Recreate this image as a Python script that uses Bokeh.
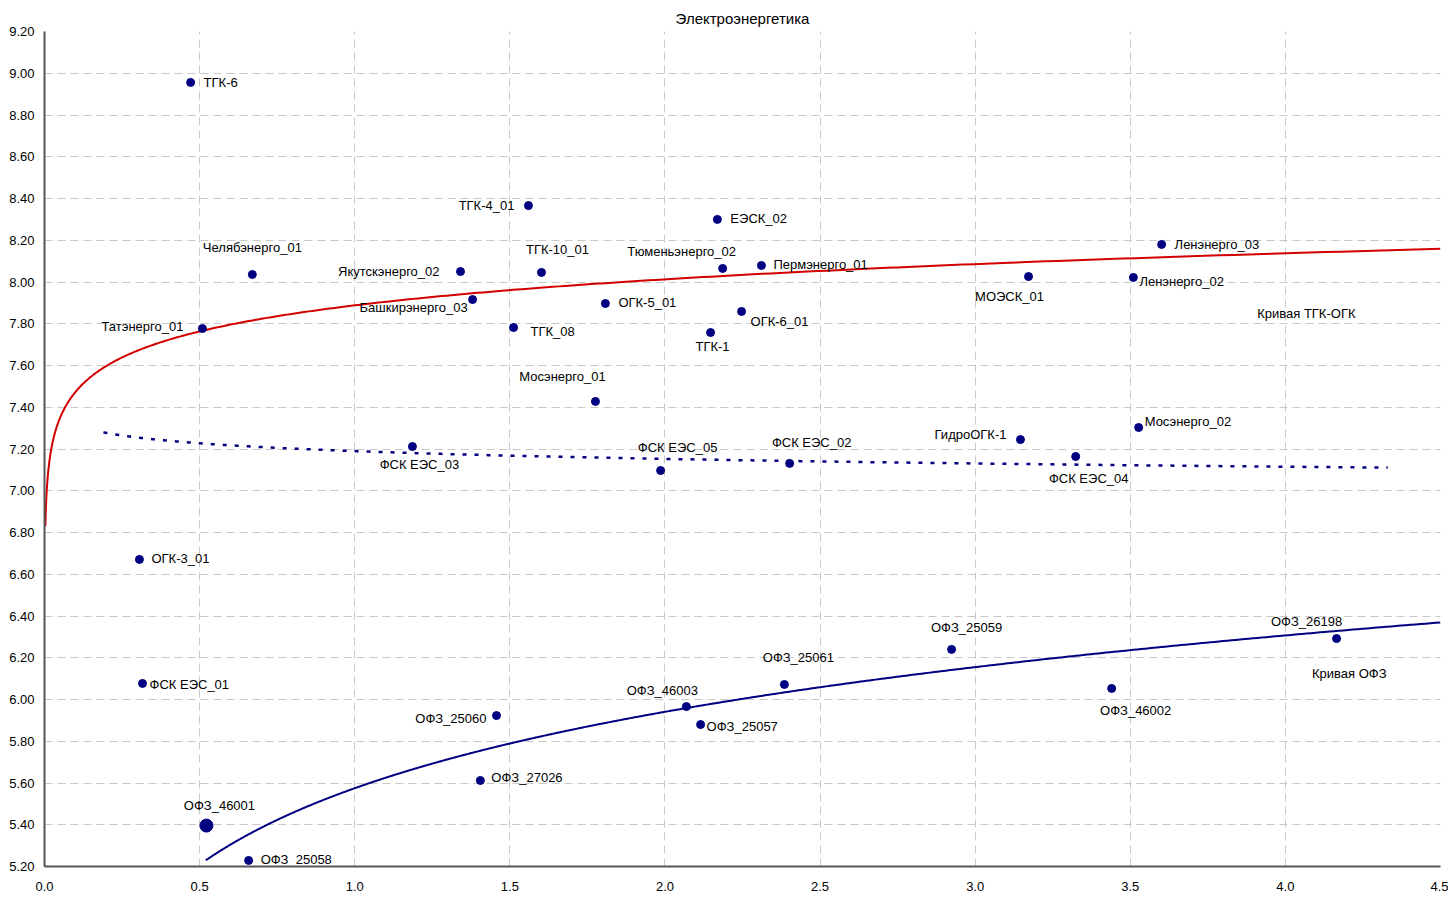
import numpy as np
from bokeh.plotting import figure
from bokeh.models import ColumnDataSource, Range1d, FixedTicker, NumeralTickFormatter
from bokeh.core.properties import value
from bokeh.embed import file_html
from bokeh.resources import INLINE

# ---------------- data ----------------
title = "Электроэнергетика"

corp_names = ["ТГК-6", "ТГК-4_01", "ЕЭСК_02", "Челябэнерго_01", "Якутскэнерго_02", "ТГК-10_01",
              "Тюменьэнерго_02", "Пермэнерго_01", "Ленэнерго_03", "МОЭСК_01", "Ленэнерго_02",
              "Башкирэнерго_03", "ОГК-5_01", "ОГК-6_01", "Татэнерго_01", "ТГК_08", "ТГК-1",
              "Мосэнерго_01", "ФСК ЕЭС_03", "ФСК ЕЭС_05", "ФСК ЕЭС_02", "ГидроОГК-1",
              "ФСК ЕЭС_04", "Мосэнерго_02", "ОГК-3_01", "ФСК ЕЭС_01"]
corp_x = [0.471, 1.560, 2.169, 0.670, 1.341, 1.602, 2.186, 2.311, 3.601, 3.172, 3.510,
          1.380, 1.808, 2.247, 0.509, 1.512, 2.147, 1.776, 1.186, 1.986, 2.402, 3.146,
          3.324, 3.527, 0.306, 0.316]
corp_y = [8.956, 8.366, 8.300, 8.036, 8.050, 8.046, 8.065, 8.079, 8.180, 8.026, 8.022,
          7.916, 7.897, 7.859, 7.777, 7.782, 7.758, 7.428, 7.212, 7.097, 7.131, 7.245,
          7.164, 7.303, 6.671, 6.077]

ofz_names = ["ОФЗ_25059", "ОФЗ_26198", "ОФЗ_25061", "ОФЗ_46002", "ОФЗ_46003", "ОФЗ_25060",
             "ОФЗ_25057", "ОФЗ_27026", "ОФЗ_46001", "ОФЗ_25058"]
ofz_x = [2.924, 4.165, 2.385, 3.440, 2.069, 1.457, 2.115, 1.405, 0.522, 0.658]
ofz_y = [6.240, 6.292, 6.072, 6.053, 5.966, 5.923, 5.880, 5.612, 5.396, 5.229]

# logarithmic trend lines y = a + b*ln(x)
trend_tgk = dict(name="Кривая ТГК-ОГК", a=7.888, b=0.180, x0=0.0028, x1=4.5)
trend_ofz = dict(name="Кривая ОФЗ", a=5.575, b=0.528, x0=0.52, x1=4.5)
trend_fsk = dict(a=7.190, b=-0.054, x0=0.19, x1=4.33)

x_ticks = [0.0, 0.5, 1.0, 1.5, 2.0, 2.5, 3.0, 3.5, 4.0, 4.5]
y_ticks = [5.2, 5.4, 5.6, 5.8, 6.0, 6.2, 6.4, 6.6, 6.8, 7.0, 7.2, 7.4, 7.6, 7.8, 8.0,
           8.2, 8.4, 8.6, 8.8, 9.0, 9.2]

# ---------------- label placement (style) ----------------
# (align, dx px, dy px downward)
corp_lab = {
    "ТГК-6": ("left", 13, 0), "ТГК-4_01": ("right", -14, 0), "ЕЭСК_02": ("left", 13, -1),
    "Челябэнерго_01": ("center", 0, -27), "Якутскэнерго_02": ("right", -21, 0),
    "ТГК-10_01": ("center", 16, -23), "Тюменьэнерго_02": ("center", -41, -17),
    "Пермэнерго_01": ("left", 12, -1), "Ленэнерго_03": ("left", 13, 0),
    "МОЭСК_01": ("center", -19, 20), "Ленэнерго_02": ("left", 6, 4),
    "Башкирэнерго_03": ("right", -5, 8), "ОГК-5_01": ("left", 13, -1),
    "ОГК-6_01": ("left", 9, 10), "Татэнерго_01": ("right", -19, -2),
    "ТГК_08": ("left", 17, 4), "ТГК-1": ("center", 2, 14), "Мосэнерго_01": ("center", -33, -25),
    "ФСК ЕЭС_03": ("center", 7, 18), "ФСК ЕЭС_05": ("center", 17, -23),
    "ФСК ЕЭС_02": ("center", 22, -21), "ГидроОГК-1": ("right", -14, -5),
    "ФСК ЕЭС_04": ("center", 13, 22), "Мосэнерго_02": ("left", 6, -6),
    "ОГК-3_01": ("left", 12, -1), "ФСК ЕЭС_01": ("left", 7, 1),
}
ofz_lab = {
    "ОФЗ_25059": ("center", 15, -22), "ОФЗ_26198": ("center", -30, -17),
    "ОФЗ_25061": ("center", 14, -27), "ОФЗ_46002": ("center", 24, 22),
    "ОФЗ_46003": ("center", -24, -16), "ОФЗ_25060": ("right", -10, 3),
    "ОФЗ_25057": ("left", 6, 2), "ОФЗ_27026": ("left", 11, -3),
    "ОФЗ_46001": ("center", 13, -20), "ОФЗ_25058": ("left", 12, -1),
}
ofz_size = {"ОФЗ_46001": 13}

FONT = "Liberation Sans"
NAVY = "#000080"
LABEL_SIZE = "13px"

p = figure(frame_width=1396, frame_height=835, output_backend="svg", toolbar_location=None,
           x_range=Range1d(0, 4.5), y_range=Range1d(5.2, 9.2),
           min_border_left=44, min_border_top=31, min_border_right=8, min_border_bottom=27)
p.outline_line_color = None
p.background_fill_color = "white"

p.title.text = title
p.title.align = "center"
p.title.text_font = FONT
p.title.text_font_size = "15px"
p.title.text_font_style = "normal"
p.title.text_color = "#000000"
p.title.standoff = 10

for ax in (p.xaxis[0], p.yaxis[0]):
    ax.axis_line_color = "#555555"
    ax.axis_line_width = 2
    ax.major_tick_line_color = None
    ax.minor_tick_line_color = None
    ax.major_label_text_font = FONT
    ax.major_label_text_font_size = "13px"
    ax.major_label_text_color = "#000000"
p.xaxis[0].ticker = FixedTicker(ticks=x_ticks)
p.yaxis[0].ticker = FixedTicker(ticks=y_ticks)
p.xaxis[0].formatter = NumeralTickFormatter(format="0.0")
p.yaxis[0].formatter = NumeralTickFormatter(format="0.00")
p.xaxis[0].major_label_standoff = 9
p.yaxis[0].major_label_standoff = 4

for g in (p.xgrid[0], p.ygrid[0]):
    g.grid_line_color = "#c8c8c8"
    g.grid_line_dash = "8 5"
    g.grid_line_width = 1
p.xgrid[0].ticker = FixedTicker(ticks=x_ticks)
p.ygrid[0].ticker = FixedTicker(ticks=y_ticks)


def trend(t, n=600):
    xs = np.geomspace(t["x0"], t["x1"], n)
    return xs, t["a"] + t["b"] * np.log(xs)


xs, ys = trend(trend_tgk)
p.line(xs, ys, line_color="#d40000", line_width=2)
xs, ys = trend(trend_ofz)
p.line(xs, ys, line_color=NAVY, line_width=2)
xs, ys = trend(trend_fsk)
p.line(xs, ys, line_color=NAVY, line_width=2.5, line_dash="4 8")


def add_points(names, xv, yv, labmap, sizes):
    src = ColumnDataSource(dict(
        x=xv, y=yv, name=names,
        size=[sizes.get(n, 8) for n in names],
        align=[labmap[n][0] for n in names],
        dx=[labmap[n][1] for n in names],
        dy=[labmap[n][2] for n in names],
    ))
    p.scatter("x", "y", source=src, size="size", fill_color=NAVY, line_color=NAVY)
    p.text("x", "y", text="name", source=src, text_align="align", text_baseline="middle",
           x_offset="dx", y_offset="dy", text_font=value(FONT), text_font_size=LABEL_SIZE,
           text_color="#000000")


add_points(corp_names, corp_x, corp_y, corp_lab, {})
add_points(ofz_names, ofz_x, ofz_y, ofz_lab, ofz_size)

# curve captions anchored at the right end of each trend line
cap_src = ColumnDataSource(dict(
    x=[trend_tgk["x1"], trend_ofz["x1"]],
    y=[trend_tgk["a"] + trend_tgk["b"] * np.log(trend_tgk["x1"]),
       trend_ofz["a"] + trend_ofz["b"] * np.log(trend_ofz["x1"])],
    t=[trend_tgk["name"], trend_ofz["name"]],
    dx=[-85, -54], dy=[65, 51],
))
p.text("x", "y", text="t", source=cap_src, text_align="right", text_baseline="middle",
       x_offset="dx", y_offset="dy", text_font=value(FONT), text_font_size=LABEL_SIZE,
       text_color="#000000")

open("out.html", "w").write(file_html(p, INLINE))
